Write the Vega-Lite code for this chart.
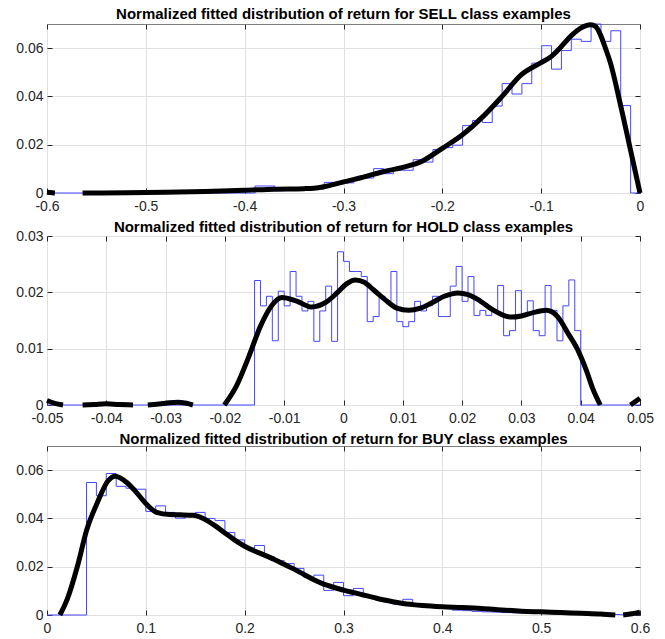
{
 "$schema": "https://vega.github.io/schema/vega-lite/v6.json",
 "background": "white",
 "padding": {"left": 15, "top": 6, "right": 5, "bottom": 0},
 "spacing": 5,
 "config": {
  "view": {"stroke": "#7f7f7f", "strokeWidth": 1},
  "axis": {"domain": false, "grid": false, "tickColor": "#262626", "tickSize": -5, "tickWidth": 1, "labelFont": "Liberation Sans", "labelFontSize": 14, "labelColor": "#262626", "labelFlush": false, "labelOverlap": false, "gridColor": "#e0e0e0", "labelExpr": "replace(format(datum.value, '~g'), '−', '-')"},
  "title": {"font": "Liberation Sans", "fontSize": 15, "fontWeight": "bold", "color": "black"}
 },
 "datasets": {
  "sell_hist": [
   {"x": -0.6, "y": 0}, {"x": -0.3895, "y": 0.0029}, {"x": -0.3795, "y": 0.0029}, {"x": -0.3695, "y": 0.0019}, {"x": -0.3595, "y": 0.0017}, {"x": -0.3495, "y": 0.0017}, {"x": -0.3395, "y": 0.0016}, {"x": -0.3295, "y": 0.0016}, {"x": -0.3195, "y": 0.0044}, {"x": -0.3095, "y": 0.0038}, {"x": -0.2995, "y": 0.0042}, {"x": -0.2895, "y": 0.006}, {"x": -0.2795, "y": 0.0062}, {"x": -0.2695, "y": 0.0101}, {"x": -0.2595, "y": 0.008}, {"x": -0.2495, "y": 0.0094}, {"x": -0.2395, "y": 0.0094}, {"x": -0.2295, "y": 0.0138}, {"x": -0.2195, "y": 0.0128}, {"x": -0.2095, "y": 0.018}, {"x": -0.1995, "y": 0.0188}, {"x": -0.1895, "y": 0.0198}, {"x": -0.1795, "y": 0.0279}, {"x": -0.1695, "y": 0.03}, {"x": -0.1595, "y": 0.0292}, {"x": -0.1495, "y": 0.036}, {"x": -0.1395, "y": 0.0453}, {"x": -0.1295, "y": 0.041}, {"x": -0.1195, "y": 0.0453}, {"x": -0.1095, "y": 0.0538}, {"x": -0.0995, "y": 0.061}, {"x": -0.0895, "y": 0.0513}, {"x": -0.0795, "y": 0.059}, {"x": -0.0695, "y": 0.0637}, {"x": -0.0595, "y": 0.0628}, {"x": -0.0495, "y": 0.07}, {"x": -0.0395, "y": 0.0628}, {"x": -0.0295, "y": 0.0672}, {"x": -0.0195, "y": 0.0362}, {"x": -0.0095, "y": 0}, {"x": 0, "y": 0}
  ],
  "sell_fit": [
   {"x": -0.6, "y": 0.0003, "seg": 1}, {"x": -0.592, "y": 0, "seg": 1},
   {"x": -0.564, "y": 0, "seg": 2}, {"x": -0.52, "y": 0.0001, "seg": 2}, {"x": -0.48, "y": 0.0003, "seg": 2}, {"x": -0.44, "y": 0.0006, "seg": 2}, {"x": -0.4, "y": 0.0011, "seg": 2}, {"x": -0.37, "y": 0.0016, "seg": 2}, {"x": -0.34, "y": 0.0018, "seg": 2}, {"x": -0.33, "y": 0.002, "seg": 2}, {"x": -0.32, "y": 0.0026, "seg": 2}, {"x": -0.3, "y": 0.0046, "seg": 2}, {"x": -0.28, "y": 0.0066, "seg": 2}, {"x": -0.26, "y": 0.0088, "seg": 2}, {"x": -0.24, "y": 0.0106, "seg": 2}, {"x": -0.22, "y": 0.0133, "seg": 2}, {"x": -0.2, "y": 0.0185, "seg": 2}, {"x": -0.18, "y": 0.024, "seg": 2}, {"x": -0.16, "y": 0.0312, "seg": 2}, {"x": -0.14, "y": 0.0398, "seg": 2}, {"x": -0.12, "y": 0.049, "seg": 2}, {"x": -0.1, "y": 0.054, "seg": 2}, {"x": -0.09, "y": 0.0565, "seg": 2}, {"x": -0.08, "y": 0.0605, "seg": 2}, {"x": -0.07, "y": 0.065, "seg": 2}, {"x": -0.06, "y": 0.0683, "seg": 2}, {"x": -0.05, "y": 0.0697, "seg": 2}, {"x": -0.045, "y": 0.069, "seg": 2}, {"x": -0.04, "y": 0.0655, "seg": 2}, {"x": -0.035, "y": 0.06, "seg": 2}, {"x": -0.03, "y": 0.054, "seg": 2}, {"x": -0.02, "y": 0.037, "seg": 2}, {"x": -0.01, "y": 0.0185, "seg": 2}, {"x": 0, "y": 0, "seg": 2}
  ],
  "hold_hist": [
   {"x": -0.05, "y": 0}, {"x": -0.015, "y": 0.0221}, {"x": -0.014, "y": 0.0176}, {"x": -0.013, "y": 0.0193}, {"x": -0.012, "y": 0.0114}, {"x": -0.011, "y": 0.0202}, {"x": -0.01, "y": 0.0176}, {"x": -0.009, "y": 0.0237}, {"x": -0.008, "y": 0.0193}, {"x": -0.007, "y": 0.0167}, {"x": -0.006, "y": 0.0184}, {"x": -0.005, "y": 0.0113}, {"x": -0.004, "y": 0.0167}, {"x": -0.003, "y": 0.0211}, {"x": -0.002, "y": 0.0113}, {"x": -0.001, "y": 0.0272}, {"x": 0, "y": 0.0255}, {"x": 0.001, "y": 0.0237}, {"x": 0.002, "y": 0.0237}, {"x": 0.003, "y": 0.0228}, {"x": 0.004, "y": 0.0148}, {"x": 0.005, "y": 0.0157}, {"x": 0.006, "y": 0.0193}, {"x": 0.007, "y": 0.0184}, {"x": 0.008, "y": 0.0237}, {"x": 0.009, "y": 0.0148}, {"x": 0.01, "y": 0.0139}, {"x": 0.011, "y": 0.0148}, {"x": 0.012, "y": 0.0184}, {"x": 0.013, "y": 0.0167}, {"x": 0.014, "y": 0.0176}, {"x": 0.015, "y": 0.0193}, {"x": 0.016, "y": 0.0157}, {"x": 0.017, "y": 0.0157}, {"x": 0.018, "y": 0.0211}, {"x": 0.019, "y": 0.0246}, {"x": 0.02, "y": 0.0184}, {"x": 0.021, "y": 0.0228}, {"x": 0.022, "y": 0.0159}, {"x": 0.023, "y": 0.0168}, {"x": 0.024, "y": 0.0159}, {"x": 0.025, "y": 0.0168}, {"x": 0.026, "y": 0.0212}, {"x": 0.027, "y": 0.0123}, {"x": 0.028, "y": 0.0132}, {"x": 0.029, "y": 0.0203}, {"x": 0.03, "y": 0.0159}, {"x": 0.031, "y": 0.0185}, {"x": 0.032, "y": 0.0132}, {"x": 0.033, "y": 0.0123}, {"x": 0.034, "y": 0.0212}, {"x": 0.035, "y": 0.0168}, {"x": 0.036, "y": 0.0114}, {"x": 0.037, "y": 0.0176}, {"x": 0.038, "y": 0.0222}, {"x": 0.039, "y": 0.0132}, {"x": 0.04, "y": 0}, {"x": 0.05, "y": 0}
  ],
  "hold_fit": [
   {"x": -0.05, "y": 0.0008, "seg": 1}, {"x": -0.0487, "y": 0.0003, "seg": 1}, {"x": -0.0473, "y": 0, "seg": 1},
   {"x": -0.044, "y": 0, "seg": 2}, {"x": -0.042, "y": 0.0001, "seg": 2}, {"x": -0.04, "y": 0.0002, "seg": 2}, {"x": -0.038, "y": 0.0001, "seg": 2}, {"x": -0.0355, "y": 0, "seg": 2},
   {"x": -0.033, "y": 0, "seg": 3}, {"x": -0.03, "y": 0.0003, "seg": 3}, {"x": -0.028, "y": 0.0005, "seg": 3}, {"x": -0.0265, "y": 0.0003, "seg": 3}, {"x": -0.0254, "y": 0, "seg": 3},
   {"x": -0.0201, "y": 0, "seg": 4}, {"x": -0.018, "y": 0.0035, "seg": 4}, {"x": -0.016, "y": 0.0085, "seg": 4}, {"x": -0.014, "y": 0.014, "seg": 4}, {"x": -0.012, "y": 0.0178, "seg": 4}, {"x": -0.0104, "y": 0.0191, "seg": 4}, {"x": -0.008, "y": 0.0185, "seg": 4}, {"x": -0.0054, "y": 0.0174, "seg": 4}, {"x": -0.003, "y": 0.0182, "seg": 4}, {"x": -0.001, "y": 0.02, "seg": 4}, {"x": 0.0005, "y": 0.0215, "seg": 4}, {"x": 0.002, "y": 0.0222, "seg": 4}, {"x": 0.0035, "y": 0.0218, "seg": 4}, {"x": 0.005, "y": 0.0205, "seg": 4}, {"x": 0.007, "y": 0.0187, "seg": 4}, {"x": 0.009, "y": 0.0172, "seg": 4}, {"x": 0.011, "y": 0.0168, "seg": 4}, {"x": 0.013, "y": 0.0172, "seg": 4}, {"x": 0.015, "y": 0.0182, "seg": 4}, {"x": 0.017, "y": 0.0193, "seg": 4}, {"x": 0.0193, "y": 0.0199, "seg": 4}, {"x": 0.021, "y": 0.0196, "seg": 4}, {"x": 0.023, "y": 0.0185, "seg": 4}, {"x": 0.025, "y": 0.017, "seg": 4}, {"x": 0.027, "y": 0.0159, "seg": 4}, {"x": 0.0283, "y": 0.0156, "seg": 4}, {"x": 0.03, "y": 0.0158, "seg": 4}, {"x": 0.032, "y": 0.0164, "seg": 4}, {"x": 0.0342, "y": 0.0168, "seg": 4}, {"x": 0.036, "y": 0.0158, "seg": 4}, {"x": 0.038, "y": 0.0125, "seg": 4}, {"x": 0.0394, "y": 0.01, "seg": 4}, {"x": 0.041, "y": 0.006, "seg": 4}, {"x": 0.042, "y": 0.003, "seg": 4}, {"x": 0.0433, "y": 0, "seg": 4},
   {"x": 0.0484, "y": 0, "seg": 5}, {"x": 0.05, "y": 0.0012, "seg": 5}
  ],
  "buy_hist": [
   {"x": 0, "y": 0}, {"x": 0.04, "y": 0.0549}, {"x": 0.05, "y": 0.0494}, {"x": 0.06, "y": 0.0586}, {"x": 0.07, "y": 0.0533}, {"x": 0.08, "y": 0.0525}, {"x": 0.09, "y": 0.0521}, {"x": 0.1, "y": 0.0429}, {"x": 0.11, "y": 0.0452}, {"x": 0.12, "y": 0.0425}, {"x": 0.13, "y": 0.0401}, {"x": 0.14, "y": 0.0418}, {"x": 0.15, "y": 0.0425}, {"x": 0.16, "y": 0.04}, {"x": 0.17, "y": 0.0391}, {"x": 0.18, "y": 0.0342}, {"x": 0.19, "y": 0.0311}, {"x": 0.2, "y": 0.0277}, {"x": 0.21, "y": 0.0288}, {"x": 0.22, "y": 0.0242}, {"x": 0.23, "y": 0.0225}, {"x": 0.24, "y": 0.0213}, {"x": 0.25, "y": 0.0193}, {"x": 0.26, "y": 0.0155}, {"x": 0.27, "y": 0.0165}, {"x": 0.28, "y": 0.0102}, {"x": 0.29, "y": 0.0135}, {"x": 0.3, "y": 0.008}, {"x": 0.31, "y": 0.011}, {"x": 0.32, "y": 0.0078}, {"x": 0.33, "y": 0.0068}, {"x": 0.34, "y": 0.0055}, {"x": 0.35, "y": 0.0045}, {"x": 0.36, "y": 0.0065}, {"x": 0.37, "y": 0.004}, {"x": 0.38, "y": 0.0035}, {"x": 0.39, "y": 0.003}, {"x": 0.4, "y": 0.0028}, {"x": 0.41, "y": 0.002}, {"x": 0.42, "y": 0.0018}, {"x": 0.43, "y": 0.0015}, {"x": 0.44, "y": 0.0013}, {"x": 0.45, "y": 0.0012}, {"x": 0.46, "y": 0.001}, {"x": 0.47, "y": 0.0009}, {"x": 0.48, "y": 0.0008}, {"x": 0.49, "y": 0.0007}, {"x": 0.5, "y": 0.0006}, {"x": 0.51, "y": 0.0005}, {"x": 0.52, "y": 0.0005}, {"x": 0.53, "y": 0.0004}, {"x": 0.54, "y": 0.0003}, {"x": 0.55, "y": 0.0003}, {"x": 0.56, "y": 0.0002}, {"x": 0.57, "y": 0.0002}, {"x": 0.58, "y": 0.0001}, {"x": 0.59, "y": 0.0001}, {"x": 0.6, "y": 0}
  ],
  "buy_fit": [
   {"x": 0.013, "y": 0, "seg": 1}, {"x": 0.0207, "y": 0.0068, "seg": 1}, {"x": 0.031, "y": 0.0205, "seg": 1}, {"x": 0.04, "y": 0.035, "seg": 1}, {"x": 0.051, "y": 0.0466, "seg": 1}, {"x": 0.0616, "y": 0.0555, "seg": 1}, {"x": 0.069, "y": 0.0575, "seg": 1}, {"x": 0.081, "y": 0.0548, "seg": 1}, {"x": 0.09, "y": 0.051, "seg": 1}, {"x": 0.1, "y": 0.0462, "seg": 1}, {"x": 0.111, "y": 0.0425, "seg": 1}, {"x": 0.124, "y": 0.0416, "seg": 1}, {"x": 0.135, "y": 0.0415, "seg": 1}, {"x": 0.148, "y": 0.0413, "seg": 1}, {"x": 0.158, "y": 0.04, "seg": 1}, {"x": 0.17, "y": 0.037, "seg": 1}, {"x": 0.18, "y": 0.034, "seg": 1}, {"x": 0.19, "y": 0.031, "seg": 1}, {"x": 0.2, "y": 0.0285, "seg": 1}, {"x": 0.21, "y": 0.0265, "seg": 1}, {"x": 0.22, "y": 0.0248, "seg": 1}, {"x": 0.23, "y": 0.023, "seg": 1}, {"x": 0.24, "y": 0.021, "seg": 1}, {"x": 0.25, "y": 0.019, "seg": 1}, {"x": 0.26, "y": 0.0168, "seg": 1}, {"x": 0.27, "y": 0.0146, "seg": 1}, {"x": 0.28, "y": 0.0128, "seg": 1}, {"x": 0.29, "y": 0.0115, "seg": 1}, {"x": 0.3, "y": 0.0103, "seg": 1}, {"x": 0.31, "y": 0.0093, "seg": 1}, {"x": 0.32, "y": 0.0083, "seg": 1}, {"x": 0.33, "y": 0.0073, "seg": 1}, {"x": 0.34, "y": 0.0063, "seg": 1}, {"x": 0.35, "y": 0.0055, "seg": 1}, {"x": 0.36, "y": 0.0048, "seg": 1}, {"x": 0.37, "y": 0.0043, "seg": 1}, {"x": 0.38, "y": 0.0039, "seg": 1}, {"x": 0.4, "y": 0.0034, "seg": 1}, {"x": 0.42, "y": 0.0031, "seg": 1}, {"x": 0.44, "y": 0.0027, "seg": 1}, {"x": 0.46, "y": 0.0021, "seg": 1}, {"x": 0.48, "y": 0.0016, "seg": 1}, {"x": 0.5, "y": 0.0013, "seg": 1}, {"x": 0.52, "y": 0.001, "seg": 1}, {"x": 0.54, "y": 0.0007, "seg": 1}, {"x": 0.56, "y": 0.0004, "seg": 1}, {"x": 0.575, "y": 0, "seg": 1},
   {"x": 0.583, "y": 0, "seg": 2}, {"x": 0.592, "y": 0.0005, "seg": 2}, {"x": 0.6, "y": 0.0012, "seg": 2}
  ]
 },
 "vconcat": [
  {
   "width": 593, "height": 169,
   "title": {"text": "Normalized fitted distribution of return for SELL class examples", "offset": -7},
   "resolve": {"axis": {"x": "independent", "y": "independent"}},
   "layer": [
    {"data": {"name": "sell_hist"},
     "mark": {"type": "line", "interpolate": "step-after", "color": "#4646ff", "strokeWidth": 1},
     "encoding": {
      "x": {"field": "x", "type": "quantitative", "title": null, "scale": {"domain": [-0.6, 0], "nice": false, "zero": false}, "axis": {"orient": "bottom", "values": [-0.6, -0.5, -0.4, -0.3, -0.2, -0.1, 0], "grid": true, "labelPadding": 11}},
      "y": {"field": "y", "type": "quantitative", "title": null, "scale": {"domain": [0, 0.07], "nice": false}, "axis": {"orient": "left", "values": [0, 0.02, 0.04, 0.06], "grid": true, "labelPadding": 9}}
     }},
    {"data": {"name": "sell_fit"},
     "mark": {"type": "line", "interpolate": "monotone", "color": "black", "strokeWidth": 5, "strokeCap": "butt"},
     "encoding": {
      "x": {"field": "x", "type": "quantitative", "title": null, "scale": {"domain": [-0.6, 0], "nice": false, "zero": false}, "axis": {"orient": "top", "values": [-0.6, -0.5, -0.4, -0.3, -0.2, -0.1, 0], "labels": false, "minExtent": 0, "maxExtent": 0}},
      "y": {"field": "y", "type": "quantitative", "title": null, "scale": {"domain": [0, 0.07], "nice": false}, "axis": {"orient": "right", "values": [0, 0.02, 0.04, 0.06], "labels": false, "minExtent": 0, "maxExtent": 0}},
      "detail": {"field": "seg", "type": "nominal"}
     }}
   ]
  },
  {
   "width": 593, "height": 169,
   "title": {"text": "Normalized fitted distribution of return for HOLD class examples", "offset": -6},
   "resolve": {"axis": {"x": "independent", "y": "independent"}},
   "layer": [
    {"data": {"name": "hold_hist"},
     "mark": {"type": "line", "interpolate": "step-after", "color": "#4646ff", "strokeWidth": 1},
     "encoding": {
      "x": {"field": "x", "type": "quantitative", "title": null, "scale": {"domain": [-0.05, 0.05], "nice": false, "zero": false}, "axis": {"orient": "bottom", "values": [-0.05, -0.04, -0.03, -0.02, -0.01, 0, 0.01, 0.02, 0.03, 0.04, 0.05], "grid": true, "labelPadding": 11}},
      "y": {"field": "y", "type": "quantitative", "title": null, "scale": {"domain": [0, 0.03], "nice": false}, "axis": {"orient": "left", "values": [0, 0.01, 0.02, 0.03], "grid": true, "labelPadding": 9}}
     }},
    {"data": {"name": "hold_fit"},
     "mark": {"type": "line", "interpolate": "monotone", "color": "black", "strokeWidth": 5, "strokeCap": "butt"},
     "encoding": {
      "x": {"field": "x", "type": "quantitative", "title": null, "scale": {"domain": [-0.05, 0.05], "nice": false, "zero": false}, "axis": {"orient": "top", "values": [-0.05, -0.04, -0.03, -0.02, -0.01, 0, 0.01, 0.02, 0.03, 0.04, 0.05], "labels": false, "minExtent": 0, "maxExtent": 0}},
      "y": {"field": "y", "type": "quantitative", "title": null, "scale": {"domain": [0, 0.03], "nice": false}, "axis": {"orient": "right", "values": [0, 0.01, 0.02, 0.03], "labels": false, "minExtent": 0, "maxExtent": 0}},
      "detail": {"field": "seg", "type": "nominal"}
     }}
   ]
  },
  {
   "width": 593, "height": 169,
   "title": {"text": "Normalized fitted distribution of return for BUY class examples", "offset": -1},
   "resolve": {"axis": {"x": "independent", "y": "independent"}},
   "layer": [
    {"data": {"name": "buy_hist"},
     "mark": {"type": "line", "interpolate": "step-after", "color": "#4646ff", "strokeWidth": 1},
     "encoding": {
      "x": {"field": "x", "type": "quantitative", "title": null, "scale": {"domain": [0, 0.6], "nice": false, "zero": false}, "axis": {"orient": "bottom", "values": [0, 0.1, 0.2, 0.3, 0.4, 0.5, 0.6], "grid": true, "labelPadding": 11}},
      "y": {"field": "y", "type": "quantitative", "title": null, "scale": {"domain": [0, 0.07], "nice": false}, "axis": {"orient": "left", "values": [0, 0.02, 0.04, 0.06], "grid": true, "labelPadding": 9}}
     }},
    {"data": {"name": "buy_fit"},
     "mark": {"type": "line", "interpolate": "monotone", "color": "black", "strokeWidth": 5, "strokeCap": "butt"},
     "encoding": {
      "x": {"field": "x", "type": "quantitative", "title": null, "scale": {"domain": [0, 0.6], "nice": false, "zero": false}, "axis": {"orient": "top", "values": [0, 0.1, 0.2, 0.3, 0.4, 0.5, 0.6], "labels": false, "minExtent": 0, "maxExtent": 0}},
      "y": {"field": "y", "type": "quantitative", "title": null, "scale": {"domain": [0, 0.07], "nice": false}, "axis": {"orient": "right", "values": [0, 0.02, 0.04, 0.06], "labels": false, "minExtent": 0, "maxExtent": 0}},
      "detail": {"field": "seg", "type": "nominal"}
     }}
   ]
  }
 ]
}
